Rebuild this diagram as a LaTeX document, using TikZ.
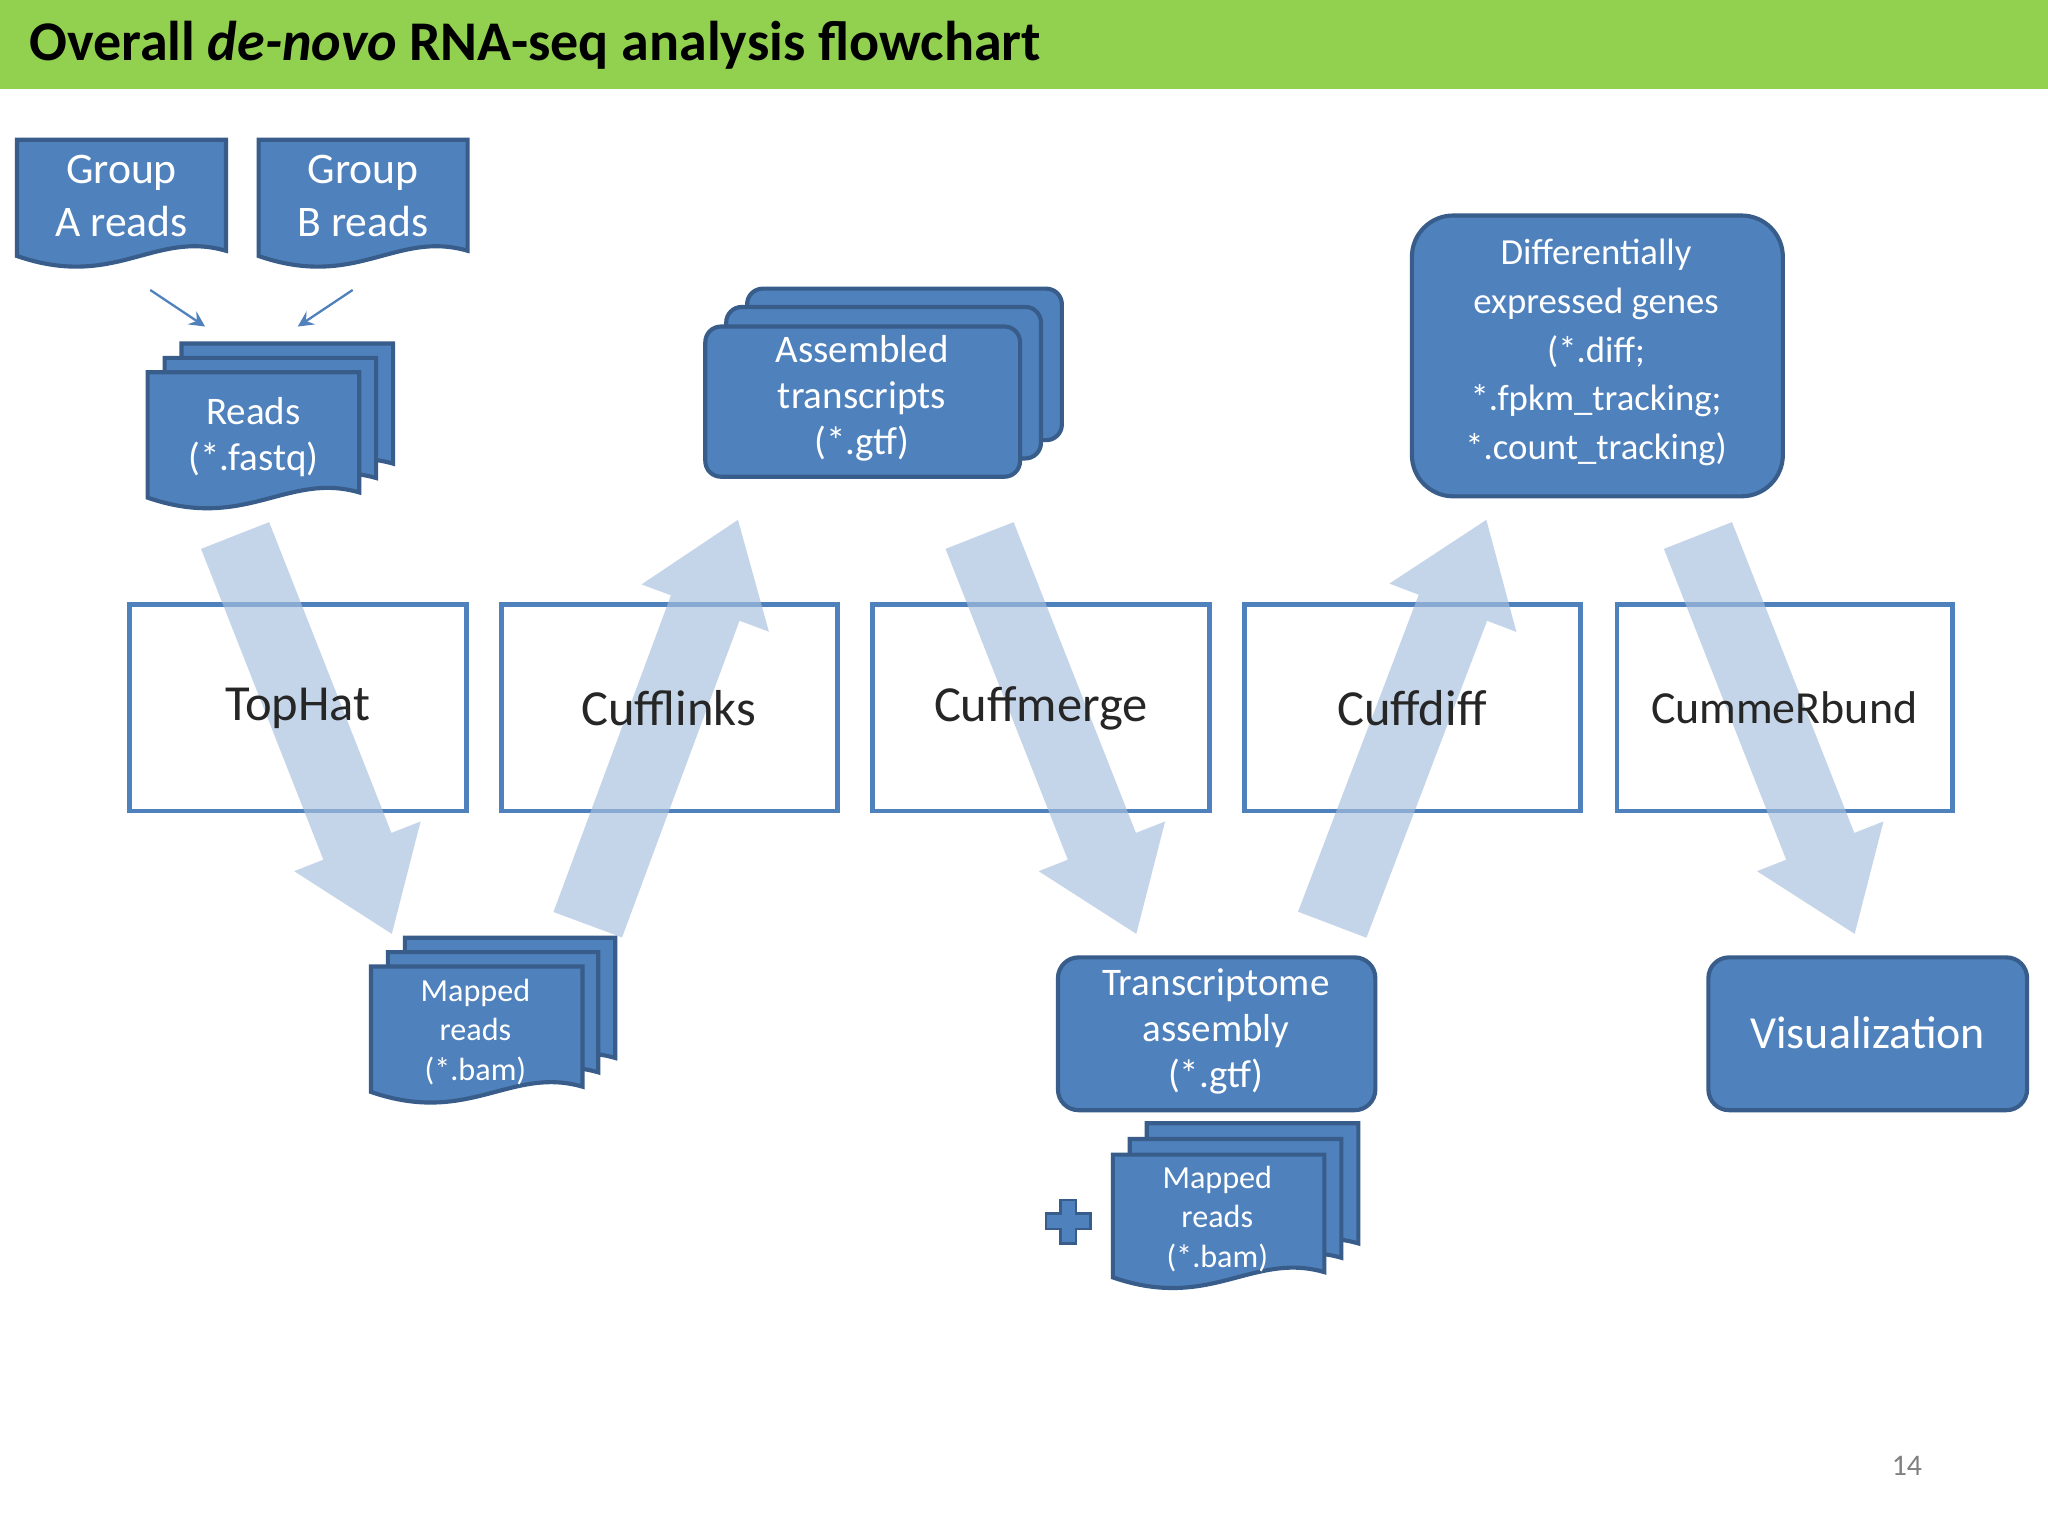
\documentclass[tikz,border=0pt]{standalone}
\usepackage{fontspec}
\setmainfont{Carlito}
\usetikzlibrary{calc}
\definecolor{hdr}{HTML}{92D050}
\definecolor{bfill}{HTML}{4F81BD}
\definecolor{bline}{HTML}{385D8A}
\definecolor{afill}{HTML}{A7C0DE}
\tikzset{
  blue shape/.style={fill=bfill,draw=bline,line width=0.9pt},
  wtxt/.style={text=white,align=center,font=\fontsize{8.5}{10}\selectfont},
  proc/.style={draw=bfill,line width=1pt,fill=white},
  ptxt/.style={text=black!85,font=\fontsize{11}{13}\selectfont},
  big arrow/.style={fill=afill,opacity=0.65,draw=none},
  small arrow/.style={draw=bfill,line width=0.5pt,-stealth}
}
\newcommand\docpath[4]{(#1,#2) -- (#3,#2) -- (#3,#4-16) .. controls (#3-55,#4-32) and (#1+75,#4+14) .. (#1,#4-12) -- cycle}
\newcommand\bigarr[3]{%
  \coordinate (#1S) at #2; \coordinate (#1E) at #3;
  \coordinate (#1H) at ($(#1E)!0.72cm!(#1S)$);
  \fill[big arrow] ($(#1S)!0.28cm!90:(#1E)$) -- ($(#1H)!0.28cm!-90:(#1S)$) -- ($(#1H)!0.52cm!-90:(#1S)$) -- (#1E)
   -- ($(#1H)!0.52cm!90:(#1S)$) -- ($(#1H)!0.28cm!90:(#1S)$) -- ($(#1S)!0.28cm!-90:(#1E)$) -- cycle;}
\begin{document}
\begin{tikzpicture}[x=0.01cm,y=-0.01cm]
\useasboundingbox (0,0) rectangle (1568,1176);
\fill[white] (0,0) rectangle (1568,1176);
% header
\fill[hdr] (0,0) rectangle (1568,68);
\node[anchor=west,font=\bfseries\fontsize{12.2}{14}\selectfont] (title) at (10,35) {Overall \textit{de-novo} RNA-seq analysis flowchart};
% group reads
\draw[blue shape] \docpath{13}{107}{173}{208};
\node[wtxt,font=\fontsize{9.5}{11.5}\selectfont] (ga) at (93,150) {Group\\A reads};
\draw[blue shape] \docpath{198}{107}{358}{208};
\node[wtxt,font=\fontsize{9.5}{11.5}\selectfont] (gb) at (278,150) {Group\\B reads};
% reads stack
\draw[blue shape] \docpath{139}{263}{301}{371};
\draw[blue shape] \docpath{126}{274}{288}{382};
\draw[blue shape] \docpath{113}{285}{275}{393};
\node[wtxt] (reads) at (194,335) {Reads\\(*.fastq)};
\coordinate (ra) at (157,250); \coordinate (rb) at (228,250);
\draw[small arrow] (115,222) -- (ra);
\draw[small arrow] (270,222) -- (rb);
% assembled transcripts
\draw[blue shape,rounded corners=3.4pt] (572,221) rectangle (813,337);
\draw[blue shape,rounded corners=3.4pt] (556,235) rectangle (797,351);
\draw[blue shape,rounded corners=3.4pt] (540,250) rectangle (781,365);
\node[wtxt] (asm) at (660,305) {Assembled\\transcripts\\(*.gtf)};
% DE genes
\draw[blue shape,rounded corners=9pt] (1081,165) rectangle (1365,380);
\node[wtxt,font=\fontsize{8}{10.6}\selectfont] (de) at (1222,270) {Differentially\\expressed genes\\(*.diff;\\*.fpkm\_tracking;\\*.count\_tracking)};
% process boxes
\draw[proc] (99,463) rectangle (357,621); 
\draw[proc] (384,463) rectangle (641,621);
\draw[proc] (668,463) rectangle (926,621);
\draw[proc] (953,463) rectangle (1210,621);
\draw[proc] (1238,463) rectangle (1495,621);
% big arrows
\bigarr{a}{(180,410)}{(300,715)}
\bigarr{b}{(450,708)}{(565,398)}
\bigarr{c}{(750,410)}{(870,715)}
\bigarr{d}{(1020,708)}{(1138,398)}
\bigarr{e}{(1300,410)}{(1420,715)}
\node[ptxt] (tophat) at (228,542) {TopHat};
\node[ptxt] (cufflinks) at (512,542) {Cufflinks};
\node[ptxt] (cuffmerge) at (797,542) {Cuffmerge};
\node[ptxt] (cuffdiff) at (1081,542) {Cuffdiff};
\node[ptxt,font=\fontsize{10}{12}\selectfont] (cummerbund) at (1366,542) {CummeRbund};
% mapped reads 1
\draw[blue shape] \docpath{310}{718}{471}{826};
\draw[blue shape] \docpath{297}{729}{458}{837};
\draw[blue shape] \docpath{284}{740}{446}{848};
\node[wtxt,font=\fontsize{7}{8.6}\selectfont] (map1) at (364,790) {Mapped\\reads\\(*.bam)};
% transcriptome assembly
\draw[blue shape,rounded corners=4.5pt] (810,733) rectangle (1053,850);
\node[wtxt] (ta) at (931,790) {Transcriptome\\assembly\\(*.gtf)};
% plus
\fill[bfill,draw=bline,line width=0.5pt] (812,919) -- (824,919) -- (824,929) -- (835,929) -- (835,941) -- (824,941) -- (824,952) -- (812,952) -- (812,941) -- (801,941) -- (801,929) -- (812,929) -- cycle;
% mapped reads 2
\draw[blue shape] \docpath{878}{860}{1040}{968};
\draw[blue shape] \docpath{865}{872}{1027}{979};
\draw[blue shape] \docpath{852}{884}{1014}{990};
\node[wtxt,font=\fontsize{7}{8.6}\selectfont] (map2) at (932,933) {Mapped\\reads\\(*.bam)};
% visualization
\draw[blue shape,rounded corners=4.5pt] (1308,733) rectangle (1552,850);
\node[wtxt,font=\fontsize{10}{12}\selectfont] (vis) at (1430,791) {Visualization};
% page number
\node[text=black!50,font=\fontsize{6.5}{8}\selectfont] (pg) at (1460,1122) {14};
\end{tikzpicture}
\end{document}
